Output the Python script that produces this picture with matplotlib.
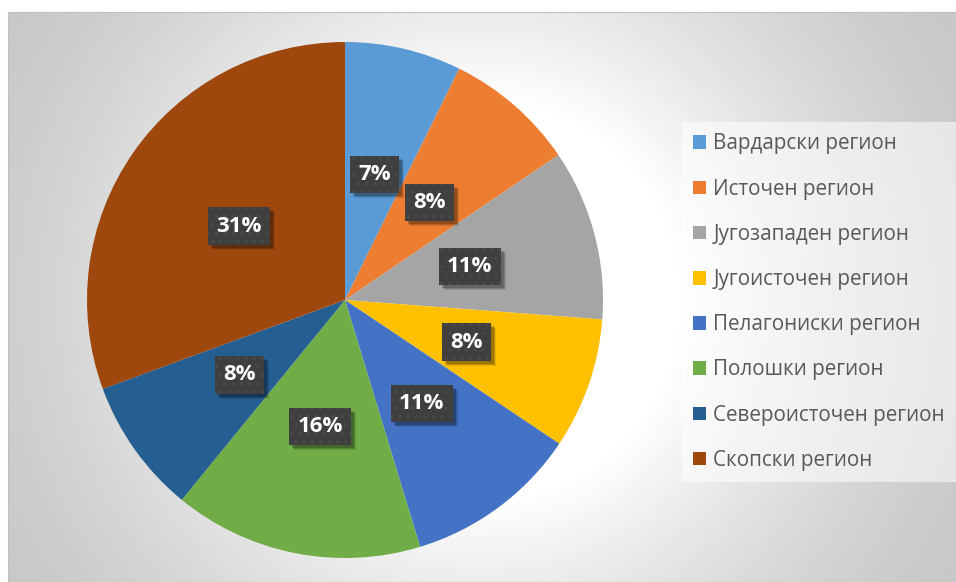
import numpy as np
import matplotlib
matplotlib.use("Agg")
import matplotlib.pyplot as plt
from matplotlib.patches import Rectangle
from matplotlib.transforms import IdentityTransform

regions = ["Вардарски регион", "Источен регион", "Југозападен регион",
           "Југоисточен регион", "Пелагониски регион", "Полошки регион",
           "Североисточен регион", "Скопски регион"]
shares = [7.3, 8.2, 10.7, 8.2, 10.9, 15.6, 8.5, 30.6]
colors = ["#5B9BD5", "#ED7D31", "#A5A5A5", "#FFC000",
          "#4472C4", "#70AD47", "#255E91", "#9E480E"]

plt.rcParams['font.family'] = ['Open Sans', 'DejaVu Sans']

W, H = 956, 582
fig = plt.figure(figsize=(W / 100, H / 100), dpi=100)
fig.patch.set_facecolor("white")

# chart area background (radial grey gradient)
bg = fig.add_axes([8 / W, 0, 1 - 8 / W, 570 / H])
xx, yy = np.meshgrid(np.arange(8, W), np.arange(12, H))
d = np.hypot(xx - 480, yy - 300)
t = np.clip((d - 200) / 360, 0, 1)
val = (200 + 55 * (1 - t) ** 1.5) / 255
bg.imshow(np.dstack([val, val, val]), aspect="auto", interpolation="bilinear")
bg.set_xticks([])
bg.set_yticks([])
for s in bg.spines.values():
    s.set_color("#bfbfbf")
    s.set_linewidth(0.8)

# pie
r = 258
cx, cy = 345, 300
ax = fig.add_axes([(cx - r) / W, (H - cy - r) / H, 2 * r / W, 2 * r / H])
ax.set_zorder(2)
wedges, texts, autotexts = ax.pie(shares, colors=colors, startangle=90,
                                  counterclock=False, autopct='%1.0f%%',
                                  pctdistance=0.5,
                                  wedgeprops=dict(linewidth=0))
ax.set_xlim(-1, 1)
ax.set_ylim(-1, 1)
ax.set_aspect("equal")
ax.axis("off")

for at in autotexts:
    at.set_fontsize(16)
    at.set_fontweight("bold")
    at.set_color("white")
    at.set_zorder(4)
    at.set_bbox(dict(boxstyle="square,pad=0.37", facecolor="#3f3f3f",
                     edgecolor="#4b4b4b", linewidth=0, hatch=".."))

leg = fig.legend(wedges, regions, loc="upper left",
                 bbox_to_anchor=(682 / W, 1 - 122 / H),
                 fontsize=14.9, labelcolor="#595959", frameon=True,
                 fancybox=False, handlelength=0.63, handleheight=0.63,
                 handletextpad=0.34, labelspacing=1.17, borderpad=0.55,
                 borderaxespad=0)
leg.get_frame().set_facecolor("white")
leg.get_frame().set_alpha(0.55)
leg.get_frame().set_linewidth(0)

# drop shadows behind the label boxes
fig.canvas.draw()
for at in autotexts:
    bb = at.get_bbox_patch().get_window_extent()
    for k, a in [(5, 0.10), (4, 0.15), (3, 0.2)]:
        sh = Rectangle((bb.x0 + k, bb.y0 - k), bb.width, bb.height,
                       transform=IdentityTransform(), facecolor="black",
                       alpha=a, linewidth=0, zorder=3, clip_on=False)
        ax.add_artist(sh)

fig.savefig("out.png", dpi=100)
